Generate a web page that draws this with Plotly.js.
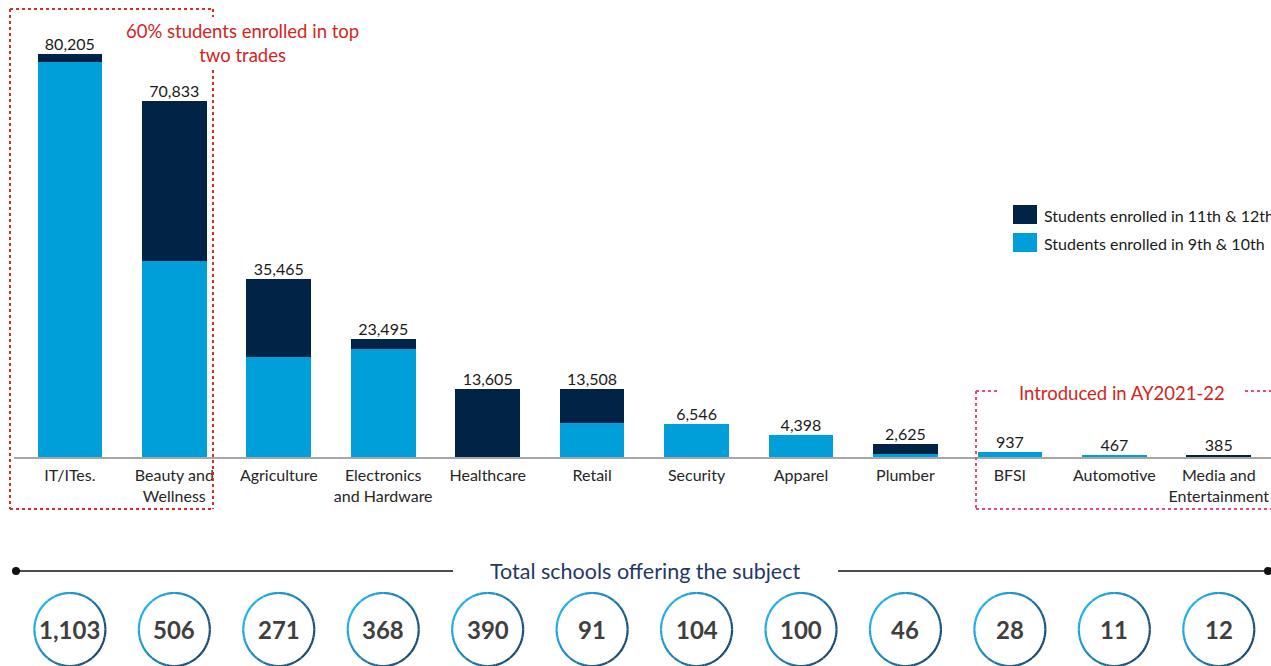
<!DOCTYPE html>
<html>
<head>
<meta charset="utf-8">
<script src="https://cdn.plot.ly/plotly-3.0.1.min.js"></script>
<style>html,body{margin:0;padding:0;background:#fff;}#chart{width:1271px;height:666px;}</style>
</head>
<body>
<div id="chart"></div>
<script>
// ---- data ----
var categories = ["IT/ITes.", "Beauty and<br>Wellness", "Agriculture", "Electronics<br>and Hardware", "Healthcare", "Retail", "Security", "Apparel", "Plumber", "BFSI", "Automotive", "Media and<br>Entertainment"];
var totalStudents = [80205, 70833, 35465, 23495, 13605, 13508, 6546, 4398, 2625, 937, 467, 385];
var students9to10 = [78610, 39100, 19850, 21450, 0, 6750, 6546, 4398, 600, 937, 467, 0];
var students11to12 = totalStudents.map(function(t, i){ return t - students9to10[i]; });
var totalLabels = ["80,205", "70,833", "35,465", "23,495", "13,605", "13,508", "6,546", "4,398", "2,625", "937", "467", "385"];
var totalSchools = ["1,103", "506", "271", "368", "390", "91", "104", "100", "46", "28", "11", "12"];
var seriesNames = ["Students enrolled in 11th & 12th", "Students enrolled in 9th & 10th"];

// ---- styling ----
var DARK = "#002346", LIGHT = "#009fda";
var FONT = "Lato, 'Open Sans', sans-serif";
var W = 1271, H = 666, ML = 14, MR = 0, MT = 10, MB = 209;
var plotH = H - MT - MB, plotW = W - ML - MR;
function px(x){ return (x - ML) / plotW; }
function py(y){ return (H - MB - y) / plotH; }

var idx = categories.map(function(c, i){ return i; });

var traces = [
  {type: "bar", x: idx, y: students9to10, name: seriesNames[1], marker: {color: LIGHT}, width: 0.62, hoverinfo: "skip", showlegend: false},
  {type: "bar", x: idx, y: students11to12, name: seriesNames[0], marker: {color: DARK}, width: 0.62, hoverinfo: "skip", showlegend: false},
  {type: "scatter", mode: "text", x: idx, y: totalStudents, text: totalLabels, textposition: "top center",
   textfont: {family: FONT, size: 16, color: "#1a1a1a"}, cliponaxis: false, hoverinfo: "skip", showlegend: false}
];

var shapes = [];
var annotations = [];

// dotted box 1 (top two trades)
var red1 = "#dc2b24";
function seg(x0, y0, x1, y1, color){
  shapes.push({type: "line", xref: "paper", yref: "paper", x0: px(x0), y0: py(y0), x1: px(x1), y1: py(y1),
    line: {color: color, width: 2, dash: "dot"}});
}
seg(10, 9, 213, 9, red1);
seg(10, 9, 10, 509, red1);
seg(10, 509, 213, 509, red1);
seg(213, 9, 213, 17, red1);
seg(213, 70, 213, 509, red1);

// dotted box 2 (introduced)
var red2 = "#ea4c7a";
seg(976, 391, 999, 391, red2);
seg(1245, 391, 1275, 391, red2);
seg(976, 391, 976, 509, red2);
seg(976, 509, 1275, 509, red2);

annotations.push({xref: "paper", yref: "paper", x: px(242), y: py(43), text: "60% students enrolled in top<br>two trades",
  showarrow: false, align: "center", font: {family: FONT, size: 18.5, color: "#d2261c"}, xanchor: "center", yanchor: "middle"});
annotations.push({xref: "paper", yref: "paper", x: px(1122), y: py(393), text: "Introduced in AY2021-22",
  showarrow: false, font: {family: FONT, size: 18.5, color: "#d2261c"}, xanchor: "center", yanchor: "middle"});

// legend (custom)
shapes.push({type: "rect", xref: "paper", yref: "paper", x0: px(1013), x1: px(1037), y0: py(205), y1: py(224), fillcolor: DARK, line: {width: 0}});
shapes.push({type: "rect", xref: "paper", yref: "paper", x0: px(1013), x1: px(1037), y0: py(233), y1: py(252), fillcolor: LIGHT, line: {width: 0}});
annotations.push({xref: "paper", yref: "paper", x: px(1042), y: py(215), text: seriesNames[0], showarrow: false,
  xanchor: "left", yanchor: "middle", font: {family: FONT, size: 16, color: "#1a1a1a"}});
annotations.push({xref: "paper", yref: "paper", x: px(1042), y: py(243), text: seriesNames[1], showarrow: false,
  xanchor: "left", yanchor: "middle", font: {family: FONT, size: 16, color: "#1a1a1a"}});

// bottom title line
shapes.push({type: "line", xref: "paper", yref: "paper", x0: px(16), x1: px(453), y0: py(571), y1: py(571), line: {color: "#111", width: 1.5}});
shapes.push({type: "line", xref: "paper", yref: "paper", x0: px(838), x1: px(1268), y0: py(571), y1: py(571), line: {color: "#111", width: 1.5}});
[16, 1268].forEach(function(cx){
  shapes.push({type: "circle", xref: "paper", yref: "paper", x0: px(cx - 4), x1: px(cx + 4), y0: py(575), y1: py(567), fillcolor: "#111", line: {width: 0}});
});
annotations.push({xref: "paper", yref: "paper", x: px(645), y: py(571), text: "Total schools offering the subject", showarrow: false,
  xanchor: "center", yanchor: "middle", font: {family: FONT, size: 21.5, color: "#1f3864"}});

// circles with gradient stroke
function hex(c){ return [parseInt(c.substr(1,2),16), parseInt(c.substr(3,2),16), parseInt(c.substr(5,2),16)]; }
var cA = hex("#1fb0ea"), cB = hex("#1a4a72");
function mix(t){ var r = cA.map(function(a, k){ return Math.round(a + (cB[k] - a) * t); }); return "rgb(" + r.join(",") + ")"; }
var rxCat = 35.5 / (plotW / 12.035), cyP = py(629.5), ryP = 36.5 / plotH;
var N = 28;
idx.forEach(function(i){
  for (var s = 0; s < N; s++){
    var a0 = 2 * Math.PI * s / N, a1 = 2 * Math.PI * (s + 1) / N, am = (a0 + a1) / 2;
    // screen direction: cos -> right, sin -> down
    var t = (0.85 * Math.cos(am) + 0.55 * Math.sin(am) + 1) / 2;
    t = Math.max(0, Math.min(1, t));
    var path = "";
    for (var k = 0; k <= 3; k++){
      var a = a0 + (a1 - a0) * k / 3;
      var xx = i + rxCat * Math.cos(a), yy = cyP - ryP * Math.sin(a);
      path += (k === 0 ? "M" : "L") + xx.toFixed(5) + "," + yy.toFixed(5);
    }
    shapes.push({type: "path", xref: "x", yref: "paper", path: path, line: {color: mix(t), width: 2.2}});
  }
  annotations.push({xref: "x", yref: "paper", x: i, y: cyP, text: "<b>" + totalSchools[i] + "</b>", showarrow: false,
    xanchor: "center", yanchor: "middle", font: {family: FONT, size: 24, color: "#3f3f3f"}});
});

var layout = {
  width: W, height: H,
  margin: {l: ML, r: MR, t: MT, b: MB, pad: 0},
  paper_bgcolor: "#fff", plot_bgcolor: "#fff",
  barmode: "stack",
  showlegend: false,
  xaxis: {
    type: "linear", range: [-0.535, 11.5], tickmode: "array", tickvals: idx, ticktext: categories,
    showgrid: false, zeroline: false, showline: true, linecolor: "#a6a6a6", linewidth: 2,
    ticks: "", ticklabelstandoff: 3, tickfont: {family: FONT, size: 16, color: "#262626"}, fixedrange: true
  },
  yaxis: {range: [0, plotH * 199.2], showgrid: false, zeroline: false, showline: false, showticklabels: false, ticks: "", fixedrange: true},
  shapes: shapes,
  annotations: annotations,
  font: {family: FONT}
};

Plotly.newPlot("chart", traces, layout, {displayModeBar: false, staticPlot: true});
</script>
</body>
</html>
